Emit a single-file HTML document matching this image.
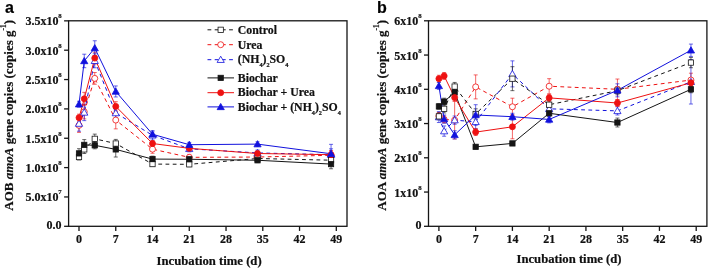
<!DOCTYPE html>
<html><head><meta charset="utf-8"><style>
html,body{margin:0;padding:0;background:#fff;}
svg{display:block;will-change:transform;}
text{font-family:"Liberation Serif",serif;font-weight:bold;fill:#111;stroke:#111;stroke-width:0.2px;}
.tl{font-size:12px;}
.sup{font-size:6.8px;}
.sup2{font-size:7.5px;}
.sub{font-size:6.2px;}
.lg{font-size:11.8px;}
.ti{font-size:12.7px;}
.yt{font-size:13px;}
.pl{font-family:"Liberation Sans",sans-serif;font-size:16px;fill:#000;}
</style></head><body>
<svg width="709" height="269" viewBox="0 0 709 269">
<rect width="709" height="269" fill="#fff"/>
<rect x="68.6" y="20.8" width="278.4" height="205.5" fill="none" stroke="#151515" stroke-width="1.3"/>
<line x1="79.00" y1="226.3" x2="79.00" y2="230.9" stroke="#151515" stroke-width="1.3"/>
<text x="79.00" y="242.6" class="tl" text-anchor="middle">0</text>
<line x1="115.76" y1="226.3" x2="115.76" y2="230.9" stroke="#151515" stroke-width="1.3"/>
<text x="115.76" y="242.6" class="tl" text-anchor="middle">7</text>
<line x1="152.51" y1="226.3" x2="152.51" y2="230.9" stroke="#151515" stroke-width="1.3"/>
<text x="152.51" y="242.6" class="tl" text-anchor="middle">14</text>
<line x1="189.27" y1="226.3" x2="189.27" y2="230.9" stroke="#151515" stroke-width="1.3"/>
<text x="189.27" y="242.6" class="tl" text-anchor="middle">21</text>
<line x1="226.03" y1="226.3" x2="226.03" y2="230.9" stroke="#151515" stroke-width="1.3"/>
<text x="226.03" y="242.6" class="tl" text-anchor="middle">28</text>
<line x1="262.79" y1="226.3" x2="262.79" y2="230.9" stroke="#151515" stroke-width="1.3"/>
<text x="262.79" y="242.6" class="tl" text-anchor="middle">35</text>
<line x1="299.54" y1="226.3" x2="299.54" y2="230.9" stroke="#151515" stroke-width="1.3"/>
<text x="299.54" y="242.6" class="tl" text-anchor="middle">42</text>
<line x1="336.30" y1="226.3" x2="336.30" y2="230.9" stroke="#151515" stroke-width="1.3"/>
<text x="336.30" y="242.6" class="tl" text-anchor="middle">49</text>
<line x1="64.1" y1="226.30" x2="68.6" y2="226.30" stroke="#151515" stroke-width="1.3"/>
<text x="61.60" y="229.00" class="tl" text-anchor="end">0.0</text>
<line x1="64.1" y1="196.95" x2="68.6" y2="196.95" stroke="#151515" stroke-width="1.3"/>
<text x="58.40" y="201.45" class="tl" text-anchor="end">5.0x10</text>
<text x="58.30" y="194.45" class="sup">7</text>
<line x1="64.1" y1="167.60" x2="68.6" y2="167.60" stroke="#151515" stroke-width="1.3"/>
<text x="58.40" y="172.10" class="tl" text-anchor="end">1.0x10</text>
<text x="58.30" y="165.10" class="sup">8</text>
<line x1="64.1" y1="138.25" x2="68.6" y2="138.25" stroke="#151515" stroke-width="1.3"/>
<text x="58.40" y="142.75" class="tl" text-anchor="end">1.5x10</text>
<text x="58.30" y="135.75" class="sup">8</text>
<line x1="64.1" y1="108.90" x2="68.6" y2="108.90" stroke="#151515" stroke-width="1.3"/>
<text x="58.40" y="113.40" class="tl" text-anchor="end">2.0x10</text>
<text x="58.30" y="106.40" class="sup">8</text>
<line x1="64.1" y1="79.55" x2="68.6" y2="79.55" stroke="#151515" stroke-width="1.3"/>
<text x="58.40" y="84.05" class="tl" text-anchor="end">2.5x10</text>
<text x="58.30" y="77.05" class="sup">8</text>
<line x1="64.1" y1="50.20" x2="68.6" y2="50.20" stroke="#151515" stroke-width="1.3"/>
<text x="58.40" y="54.70" class="tl" text-anchor="end">3.0x10</text>
<text x="58.30" y="47.70" class="sup">8</text>
<line x1="64.1" y1="20.85" x2="68.6" y2="20.85" stroke="#151515" stroke-width="1.3"/>
<text x="58.40" y="25.35" class="tl" text-anchor="end">3.5x10</text>
<text x="58.30" y="18.35" class="sup">8</text>
<rect x="428.5" y="20.8" width="278.4" height="205.5" fill="none" stroke="#151515" stroke-width="1.3"/>
<line x1="438.90" y1="226.3" x2="438.90" y2="230.9" stroke="#151515" stroke-width="1.3"/>
<text x="438.90" y="242.6" class="tl" text-anchor="middle">0</text>
<line x1="475.66" y1="226.3" x2="475.66" y2="230.9" stroke="#151515" stroke-width="1.3"/>
<text x="475.66" y="242.6" class="tl" text-anchor="middle">7</text>
<line x1="512.41" y1="226.3" x2="512.41" y2="230.9" stroke="#151515" stroke-width="1.3"/>
<text x="512.41" y="242.6" class="tl" text-anchor="middle">14</text>
<line x1="549.17" y1="226.3" x2="549.17" y2="230.9" stroke="#151515" stroke-width="1.3"/>
<text x="549.17" y="242.6" class="tl" text-anchor="middle">21</text>
<line x1="585.93" y1="226.3" x2="585.93" y2="230.9" stroke="#151515" stroke-width="1.3"/>
<text x="585.93" y="242.6" class="tl" text-anchor="middle">28</text>
<line x1="622.68" y1="226.3" x2="622.68" y2="230.9" stroke="#151515" stroke-width="1.3"/>
<text x="622.68" y="242.6" class="tl" text-anchor="middle">35</text>
<line x1="659.44" y1="226.3" x2="659.44" y2="230.9" stroke="#151515" stroke-width="1.3"/>
<text x="659.44" y="242.6" class="tl" text-anchor="middle">42</text>
<line x1="696.20" y1="226.3" x2="696.20" y2="230.9" stroke="#151515" stroke-width="1.3"/>
<text x="696.20" y="242.6" class="tl" text-anchor="middle">49</text>
<line x1="424.0" y1="226.30" x2="428.5" y2="226.30" stroke="#151515" stroke-width="1.3"/>
<text x="421.50" y="229.00" class="tl" text-anchor="end">0</text>
<line x1="424.0" y1="192.05" x2="428.5" y2="192.05" stroke="#151515" stroke-width="1.3"/>
<text x="418.30" y="196.55" class="tl" text-anchor="end">1x10</text>
<text x="418.20" y="189.55" class="sup">8</text>
<line x1="424.0" y1="157.80" x2="428.5" y2="157.80" stroke="#151515" stroke-width="1.3"/>
<text x="418.30" y="162.30" class="tl" text-anchor="end">2x10</text>
<text x="418.20" y="155.30" class="sup">8</text>
<line x1="424.0" y1="123.55" x2="428.5" y2="123.55" stroke="#151515" stroke-width="1.3"/>
<text x="418.30" y="128.05" class="tl" text-anchor="end">3x10</text>
<text x="418.20" y="121.05" class="sup">8</text>
<line x1="424.0" y1="89.30" x2="428.5" y2="89.30" stroke="#151515" stroke-width="1.3"/>
<text x="418.30" y="93.80" class="tl" text-anchor="end">4x10</text>
<text x="418.20" y="86.80" class="sup">8</text>
<line x1="424.0" y1="55.05" x2="428.5" y2="55.05" stroke="#151515" stroke-width="1.3"/>
<text x="418.30" y="59.55" class="tl" text-anchor="end">5x10</text>
<text x="418.20" y="52.55" class="sup">8</text>
<line x1="424.0" y1="20.80" x2="428.5" y2="20.80" stroke="#151515" stroke-width="1.3"/>
<text x="418.30" y="25.30" class="tl" text-anchor="end">6x10</text>
<text x="418.20" y="18.30" class="sup">8</text>
<path d="M79.00 118.29V132.38M77.00 118.29h4M77.00 132.38h4" stroke="#ee1111" stroke-width="0.8" fill="none" opacity="0.8"/>
<path d="M84.25 104.79V118.88M82.25 104.79h4M82.25 118.88h4" stroke="#ee1111" stroke-width="0.8" fill="none" opacity="0.8"/>
<path d="M94.75 72.51V84.25M92.75 72.51h4M92.75 84.25h4" stroke="#ee1111" stroke-width="0.8" fill="none" opacity="0.8"/>
<path d="M115.76 111.25V128.86M113.76 111.25h4M113.76 128.86h4" stroke="#ee1111" stroke-width="0.8" fill="none" opacity="0.8"/>
<path d="M152.51 145.06V153.28M150.51 145.06h4M150.51 153.28h4" stroke="#ee1111" stroke-width="0.8" fill="none" opacity="0.8"/>
<path d="M189.27 154.39V160.26M187.27 154.39h4M187.27 160.26h4" stroke="#ee1111" stroke-width="0.8" fill="none" opacity="0.8"/>
<path d="M257.53 154.10V159.97M255.53 154.10h4M255.53 159.97h4" stroke="#ee1111" stroke-width="0.8" fill="none" opacity="0.8"/>
<path d="M331.05 150.58V159.97M329.05 150.58h4M329.05 159.97h4" stroke="#ee1111" stroke-width="0.8" fill="none" opacity="0.8"/>
<path d="M79.00 115.94V131.21M77.00 115.94h4M77.00 131.21h4" stroke="#1111dd" stroke-width="0.8" fill="none" opacity="0.8"/>
<path d="M84.25 104.20V120.64M82.25 104.20h4M82.25 120.64h4" stroke="#1111dd" stroke-width="0.8" fill="none" opacity="0.8"/>
<path d="M94.75 53.72V67.81M92.75 53.72h4M92.75 67.81h4" stroke="#1111dd" stroke-width="0.8" fill="none" opacity="0.8"/>
<path d="M115.76 105.97V120.05M113.76 105.97h4M113.76 120.05h4" stroke="#1111dd" stroke-width="0.8" fill="none" opacity="0.8"/>
<path d="M152.51 130.62V140.01M150.51 130.62h4M150.51 140.01h4" stroke="#1111dd" stroke-width="0.8" fill="none" opacity="0.8"/>
<path d="M189.27 145.88V151.75M187.27 145.88h4M187.27 151.75h4" stroke="#1111dd" stroke-width="0.8" fill="none" opacity="0.8"/>
<path d="M257.53 149.99V155.86M255.53 149.99h4M255.53 155.86h4" stroke="#1111dd" stroke-width="0.8" fill="none" opacity="0.8"/>
<path d="M331.05 148.82V160.56M329.05 148.82h4M329.05 160.56h4" stroke="#1111dd" stroke-width="0.8" fill="none" opacity="0.8"/>
<path d="M79.00 154.10V159.97M77.00 154.10h4M77.00 159.97h4" stroke="#151515" stroke-width="0.8" fill="none" opacity="0.8"/>
<path d="M84.25 145.29V153.51M82.25 145.29h4M82.25 153.51h4" stroke="#151515" stroke-width="0.8" fill="none" opacity="0.8"/>
<path d="M94.75 134.14V143.53M92.75 134.14h4M92.75 143.53h4" stroke="#151515" stroke-width="0.8" fill="none" opacity="0.8"/>
<path d="M115.76 139.42V147.64M113.76 139.42h4M113.76 147.64h4" stroke="#151515" stroke-width="0.8" fill="none" opacity="0.8"/>
<path d="M152.51 161.73V166.43M150.51 161.73h4M150.51 166.43h4" stroke="#151515" stroke-width="0.8" fill="none" opacity="0.8"/>
<path d="M189.27 161.96V166.66M187.27 161.96h4M187.27 166.66h4" stroke="#151515" stroke-width="0.8" fill="none" opacity="0.8"/>
<path d="M257.53 156.15V160.85M255.53 156.15h4M255.53 160.85h4" stroke="#151515" stroke-width="0.8" fill="none" opacity="0.8"/>
<path d="M331.05 157.27V163.14M329.05 157.27h4M329.05 163.14h4" stroke="#151515" stroke-width="0.8" fill="none" opacity="0.8"/>
<path d="M79.00 148.70V158.09M77.00 148.70h4M77.00 158.09h4" stroke="#151515" stroke-width="0.8" fill="none" opacity="0.8"/>
<path d="M84.25 139.60V150.17M82.25 139.60h4M82.25 150.17h4" stroke="#151515" stroke-width="0.8" fill="none" opacity="0.8"/>
<path d="M94.75 141.77V148.82M92.75 141.77h4M92.75 148.82h4" stroke="#151515" stroke-width="0.8" fill="none" opacity="0.8"/>
<path d="M115.76 141.77V157.03M113.76 141.77h4M113.76 157.03h4" stroke="#151515" stroke-width="0.8" fill="none" opacity="0.8"/>
<path d="M152.51 156.15V162.02M150.51 156.15h4M150.51 162.02h4" stroke="#151515" stroke-width="0.8" fill="none" opacity="0.8"/>
<path d="M189.27 156.92V161.61M187.27 156.92h4M187.27 161.61h4" stroke="#151515" stroke-width="0.8" fill="none" opacity="0.8"/>
<path d="M257.53 157.91V162.61M255.53 157.91h4M255.53 162.61h4" stroke="#151515" stroke-width="0.8" fill="none" opacity="0.8"/>
<path d="M331.05 159.38V168.77M329.05 159.38h4M329.05 168.77h4" stroke="#151515" stroke-width="0.8" fill="none" opacity="0.8"/>
<path d="M79.00 114.18V121.23M77.00 114.18h4M77.00 121.23h4" stroke="#ee1111" stroke-width="0.8" fill="none" opacity="0.8"/>
<path d="M84.25 92.35V105.26M82.25 92.35h4M82.25 105.26h4" stroke="#ee1111" stroke-width="0.8" fill="none" opacity="0.8"/>
<path d="M94.75 52.25V63.99M92.75 52.25h4M92.75 63.99h4" stroke="#ee1111" stroke-width="0.8" fill="none" opacity="0.8"/>
<path d="M115.76 101.68V111.07M113.76 101.68h4M113.76 111.07h4" stroke="#ee1111" stroke-width="0.8" fill="none" opacity="0.8"/>
<path d="M152.51 140.60V146.47M150.51 140.60h4M150.51 146.47h4" stroke="#ee1111" stroke-width="0.8" fill="none" opacity="0.8"/>
<path d="M189.27 146.00V150.69M187.27 146.00h4M187.27 150.69h4" stroke="#ee1111" stroke-width="0.8" fill="none" opacity="0.8"/>
<path d="M257.53 151.16V155.86M255.53 151.16h4M255.53 155.86h4" stroke="#ee1111" stroke-width="0.8" fill="none" opacity="0.8"/>
<path d="M331.05 151.16V158.21M329.05 151.16h4M329.05 158.21h4" stroke="#ee1111" stroke-width="0.8" fill="none" opacity="0.8"/>
<path d="M79.00 101.27V107.14M77.00 101.27h4M77.00 107.14h4" stroke="#1111dd" stroke-width="0.8" fill="none" opacity="0.8"/>
<path d="M84.25 54.19V67.69M82.25 54.19h4M82.25 67.69h4" stroke="#1111dd" stroke-width="0.8" fill="none" opacity="0.8"/>
<path d="M94.75 40.75V55.42M92.75 40.75h4M92.75 55.42h4" stroke="#1111dd" stroke-width="0.8" fill="none" opacity="0.8"/>
<path d="M115.76 85.95V96.98M113.76 85.95h4M113.76 96.98h4" stroke="#1111dd" stroke-width="0.8" fill="none" opacity="0.8"/>
<path d="M152.51 131.91V136.61M150.51 131.91h4M150.51 136.61h4" stroke="#1111dd" stroke-width="0.8" fill="none" opacity="0.8"/>
<path d="M189.27 142.36V147.06M187.27 142.36h4M187.27 147.06h4" stroke="#1111dd" stroke-width="0.8" fill="none" opacity="0.8"/>
<path d="M257.53 141.77V146.47M255.53 141.77h4M255.53 146.47h4" stroke="#1111dd" stroke-width="0.8" fill="none" opacity="0.8"/>
<path d="M331.05 144.35V163.14M329.05 144.35h4M329.05 163.14h4" stroke="#1111dd" stroke-width="0.8" fill="none" opacity="0.8"/>
<polyline points="79.00,125.34 84.25,111.84 94.75,78.38 115.76,120.05 152.51,149.17 189.27,157.33 257.53,157.03 331.05,155.27" fill="none" stroke="#ee1111" stroke-width="1.0" stroke-dasharray="3.8,3.4"/>
<polyline points="79.00,123.58 84.25,112.42 94.75,60.77 115.76,113.01 152.51,135.31 189.27,148.82 257.53,152.93 331.05,154.69" fill="none" stroke="#1111dd" stroke-width="1.0" stroke-dasharray="3.8,3.4"/>
<polyline points="79.00,157.03 84.25,149.40 94.75,138.84 115.76,143.53 152.51,164.08 189.27,164.31 257.53,158.50 331.05,160.20" fill="none" stroke="#151515" stroke-width="1.0" stroke-dasharray="3.8,3.4"/>
<polyline points="79.00,153.39 84.25,144.88 94.75,145.29 115.76,149.40 152.51,159.09 189.27,159.26 257.53,160.26 331.05,164.08" fill="none" stroke="#151515" stroke-width="1.0"/>
<polyline points="79.00,117.70 84.25,98.80 94.75,58.12 115.76,106.38 152.51,143.53 189.27,148.35 257.53,153.51 331.05,154.69" fill="none" stroke="#ee1111" stroke-width="1.0"/>
<polyline points="79.00,104.20 84.25,60.94 94.75,48.09 115.76,91.47 152.51,134.26 189.27,144.71 257.53,144.12 331.05,153.75" fill="none" stroke="#1111dd" stroke-width="1.0"/>
<circle cx="79.00" cy="125.34" r="3.0" fill="#fff" stroke="#ee1111" stroke-width="0.8"/>
<circle cx="84.25" cy="111.84" r="3.0" fill="#fff" stroke="#ee1111" stroke-width="0.8"/>
<circle cx="94.75" cy="78.38" r="3.0" fill="#fff" stroke="#ee1111" stroke-width="0.8"/>
<circle cx="115.76" cy="120.05" r="3.0" fill="#fff" stroke="#ee1111" stroke-width="0.8"/>
<circle cx="152.51" cy="149.17" r="3.0" fill="#fff" stroke="#ee1111" stroke-width="0.8"/>
<circle cx="189.27" cy="157.33" r="3.0" fill="#fff" stroke="#ee1111" stroke-width="0.8"/>
<circle cx="257.53" cy="157.03" r="3.0" fill="#fff" stroke="#ee1111" stroke-width="0.8"/>
<circle cx="331.05" cy="155.27" r="3.0" fill="#fff" stroke="#ee1111" stroke-width="0.8"/>
<polygon points="79.00,120.08 82.60,126.32 75.40,126.32" fill="#fff" stroke="#1111dd" stroke-width="0.8" stroke-linejoin="miter"/>
<polygon points="84.25,108.93 87.85,115.17 80.65,115.17" fill="#fff" stroke="#1111dd" stroke-width="0.8" stroke-linejoin="miter"/>
<polygon points="94.75,57.27 98.35,63.51 91.15,63.51" fill="#fff" stroke="#1111dd" stroke-width="0.8" stroke-linejoin="miter"/>
<polygon points="115.76,109.52 119.36,115.75 112.16,115.75" fill="#fff" stroke="#1111dd" stroke-width="0.8" stroke-linejoin="miter"/>
<polygon points="152.51,131.82 156.11,138.06 148.91,138.06" fill="#fff" stroke="#1111dd" stroke-width="0.8" stroke-linejoin="miter"/>
<polygon points="189.27,145.32 192.87,151.56 185.67,151.56" fill="#fff" stroke="#1111dd" stroke-width="0.8" stroke-linejoin="miter"/>
<polygon points="257.53,149.43 261.13,155.67 253.93,155.67" fill="#fff" stroke="#1111dd" stroke-width="0.8" stroke-linejoin="miter"/>
<polygon points="331.05,151.19 334.65,157.43 327.45,157.43" fill="#fff" stroke="#1111dd" stroke-width="0.8" stroke-linejoin="miter"/>
<rect x="76.35" y="154.38" width="5.3" height="5.3" fill="#fff" stroke="#151515" stroke-width="0.8"/>
<rect x="81.60" y="146.75" width="5.3" height="5.3" fill="#fff" stroke="#151515" stroke-width="0.8"/>
<rect x="92.10" y="136.19" width="5.3" height="5.3" fill="#fff" stroke="#151515" stroke-width="0.8"/>
<rect x="113.11" y="140.88" width="5.3" height="5.3" fill="#fff" stroke="#151515" stroke-width="0.8"/>
<rect x="149.86" y="161.43" width="5.3" height="5.3" fill="#fff" stroke="#151515" stroke-width="0.8"/>
<rect x="186.62" y="161.66" width="5.3" height="5.3" fill="#fff" stroke="#151515" stroke-width="0.8"/>
<rect x="254.88" y="155.85" width="5.3" height="5.3" fill="#fff" stroke="#151515" stroke-width="0.8"/>
<rect x="328.40" y="157.55" width="5.3" height="5.3" fill="#fff" stroke="#151515" stroke-width="0.8"/>
<rect x="76.35" y="150.74" width="5.3" height="5.3" fill="#151515" stroke="#151515" stroke-width="0.8"/>
<rect x="81.60" y="142.23" width="5.3" height="5.3" fill="#151515" stroke="#151515" stroke-width="0.8"/>
<rect x="92.10" y="142.64" width="5.3" height="5.3" fill="#151515" stroke="#151515" stroke-width="0.8"/>
<rect x="113.11" y="146.75" width="5.3" height="5.3" fill="#151515" stroke="#151515" stroke-width="0.8"/>
<rect x="149.86" y="156.44" width="5.3" height="5.3" fill="#151515" stroke="#151515" stroke-width="0.8"/>
<rect x="186.62" y="156.61" width="5.3" height="5.3" fill="#151515" stroke="#151515" stroke-width="0.8"/>
<rect x="254.88" y="157.61" width="5.3" height="5.3" fill="#151515" stroke="#151515" stroke-width="0.8"/>
<rect x="328.40" y="161.43" width="5.3" height="5.3" fill="#151515" stroke="#151515" stroke-width="0.8"/>
<circle cx="79.00" cy="117.70" r="3.0" fill="#ee1111" stroke="#ee1111" stroke-width="0.8"/>
<circle cx="84.25" cy="98.80" r="3.0" fill="#ee1111" stroke="#ee1111" stroke-width="0.8"/>
<circle cx="94.75" cy="58.12" r="3.0" fill="#ee1111" stroke="#ee1111" stroke-width="0.8"/>
<circle cx="115.76" cy="106.38" r="3.0" fill="#ee1111" stroke="#ee1111" stroke-width="0.8"/>
<circle cx="152.51" cy="143.53" r="3.0" fill="#ee1111" stroke="#ee1111" stroke-width="0.8"/>
<circle cx="189.27" cy="148.35" r="3.0" fill="#ee1111" stroke="#ee1111" stroke-width="0.8"/>
<circle cx="257.53" cy="153.51" r="3.0" fill="#ee1111" stroke="#ee1111" stroke-width="0.8"/>
<circle cx="331.05" cy="154.69" r="3.0" fill="#ee1111" stroke="#ee1111" stroke-width="0.8"/>
<polygon points="79.00,100.71 82.60,106.95 75.40,106.95" fill="#1111dd" stroke="#1111dd" stroke-width="0.8" stroke-linejoin="miter"/>
<polygon points="84.25,57.45 87.85,63.69 80.65,63.69" fill="#1111dd" stroke="#1111dd" stroke-width="0.8" stroke-linejoin="miter"/>
<polygon points="94.75,44.60 98.35,50.83 91.15,50.83" fill="#1111dd" stroke="#1111dd" stroke-width="0.8" stroke-linejoin="miter"/>
<polygon points="115.76,87.97 119.36,94.21 112.16,94.21" fill="#1111dd" stroke="#1111dd" stroke-width="0.8" stroke-linejoin="miter"/>
<polygon points="152.51,130.77 156.11,137.00 148.91,137.00" fill="#1111dd" stroke="#1111dd" stroke-width="0.8" stroke-linejoin="miter"/>
<polygon points="189.27,141.22 192.87,147.45 185.67,147.45" fill="#1111dd" stroke="#1111dd" stroke-width="0.8" stroke-linejoin="miter"/>
<polygon points="257.53,140.63 261.13,146.86 253.93,146.86" fill="#1111dd" stroke="#1111dd" stroke-width="0.8" stroke-linejoin="miter"/>
<polygon points="331.05,150.26 334.65,156.49 327.45,156.49" fill="#1111dd" stroke="#1111dd" stroke-width="0.8" stroke-linejoin="miter"/>
<path d="M438.90 112.59V119.44M436.90 112.59h4M436.90 119.44h4" stroke="#ee1111" stroke-width="0.8" fill="none" opacity="0.8"/>
<path d="M444.15 116.02V122.87M442.15 116.02h4M442.15 122.87h4" stroke="#ee1111" stroke-width="0.8" fill="none" opacity="0.8"/>
<path d="M454.65 101.29V138.96M452.65 101.29h4M452.65 138.96h4" stroke="#ee1111" stroke-width="0.8" fill="none" opacity="0.8"/>
<path d="M475.66 74.92V98.89M473.66 74.92h4M473.66 98.89h4" stroke="#ee1111" stroke-width="0.8" fill="none" opacity="0.8"/>
<path d="M512.41 98.21V115.33M510.41 98.21h4M510.41 115.33h4" stroke="#ee1111" stroke-width="0.8" fill="none" opacity="0.8"/>
<path d="M549.17 78.68V93.75M547.17 78.68h4M547.17 93.75h4" stroke="#ee1111" stroke-width="0.8" fill="none" opacity="0.8"/>
<path d="M617.43 79.03V99.58M615.43 79.03h4M615.43 99.58h4" stroke="#ee1111" stroke-width="0.8" fill="none" opacity="0.8"/>
<path d="M690.95 73.20V86.90M688.95 73.20h4M688.95 86.90h4" stroke="#ee1111" stroke-width="0.8" fill="none" opacity="0.8"/>
<path d="M438.90 111.56V122.52M436.90 111.56h4M436.90 122.52h4" stroke="#1111dd" stroke-width="0.8" fill="none" opacity="0.8"/>
<path d="M444.15 125.95V136.22M442.15 125.95h4M442.15 136.22h4" stroke="#1111dd" stroke-width="0.8" fill="none" opacity="0.8"/>
<path d="M454.65 116.02V124.24M452.65 116.02h4M452.65 124.24h4" stroke="#1111dd" stroke-width="0.8" fill="none" opacity="0.8"/>
<path d="M475.66 114.99V128.69M473.66 114.99h4M473.66 128.69h4" stroke="#1111dd" stroke-width="0.8" fill="none" opacity="0.8"/>
<path d="M512.41 60.87V86.90M510.41 60.87h4M510.41 86.90h4" stroke="#1111dd" stroke-width="0.8" fill="none" opacity="0.8"/>
<path d="M549.17 103.69V113.96M547.17 103.69h4M547.17 113.96h4" stroke="#1111dd" stroke-width="0.8" fill="none" opacity="0.8"/>
<path d="M617.43 106.77V114.99M615.43 106.77h4M615.43 114.99h4" stroke="#1111dd" stroke-width="0.8" fill="none" opacity="0.8"/>
<path d="M690.95 59.50V104.03M688.95 59.50h4M688.95 104.03h4" stroke="#1111dd" stroke-width="0.8" fill="none" opacity="0.8"/>
<path d="M438.90 112.93V119.78M436.90 112.93h4M436.90 119.78h4" stroke="#151515" stroke-width="0.8" fill="none" opacity="0.8"/>
<path d="M444.15 104.71V112.93M442.15 104.71h4M442.15 112.93h4" stroke="#151515" stroke-width="0.8" fill="none" opacity="0.8"/>
<path d="M454.65 82.45V90.67M452.65 82.45h4M452.65 90.67h4" stroke="#151515" stroke-width="0.8" fill="none" opacity="0.8"/>
<path d="M475.66 108.82V119.10M473.66 108.82h4M473.66 119.10h4" stroke="#151515" stroke-width="0.8" fill="none" opacity="0.8"/>
<path d="M512.41 66.70V90.67M510.41 66.70h4M510.41 90.67h4" stroke="#151515" stroke-width="0.8" fill="none" opacity="0.8"/>
<path d="M549.17 100.60V108.82M547.17 100.60h4M547.17 108.82h4" stroke="#151515" stroke-width="0.8" fill="none" opacity="0.8"/>
<path d="M617.43 86.56V94.78M615.43 86.56h4M615.43 94.78h4" stroke="#151515" stroke-width="0.8" fill="none" opacity="0.8"/>
<path d="M690.95 57.45V67.72M688.95 57.45h4M688.95 67.72h4" stroke="#151515" stroke-width="0.8" fill="none" opacity="0.8"/>
<path d="M438.90 103.69V109.17M436.90 103.69h4M436.90 109.17h4" stroke="#151515" stroke-width="0.8" fill="none" opacity="0.8"/>
<path d="M444.15 98.21V105.06M442.15 98.21h4M442.15 105.06h4" stroke="#151515" stroke-width="0.8" fill="none" opacity="0.8"/>
<path d="M454.65 90.33V94.44M452.65 90.33h4M452.65 94.44h4" stroke="#151515" stroke-width="0.8" fill="none" opacity="0.8"/>
<path d="M475.66 145.13V148.55M473.66 145.13h4M473.66 148.55h4" stroke="#151515" stroke-width="0.8" fill="none" opacity="0.8"/>
<path d="M512.41 141.70V145.13M510.41 141.70h4M510.41 145.13h4" stroke="#151515" stroke-width="0.8" fill="none" opacity="0.8"/>
<path d="M549.17 109.85V116.70M547.17 109.85h4M547.17 116.70h4" stroke="#151515" stroke-width="0.8" fill="none" opacity="0.8"/>
<path d="M617.43 118.07V126.98M615.43 118.07h4M615.43 126.98h4" stroke="#151515" stroke-width="0.8" fill="none" opacity="0.8"/>
<path d="M690.95 85.88V92.73M688.95 85.88h4M688.95 92.73h4" stroke="#151515" stroke-width="0.8" fill="none" opacity="0.8"/>
<path d="M438.90 75.26V82.11M436.90 75.26h4M436.90 82.11h4" stroke="#ee1111" stroke-width="0.8" fill="none" opacity="0.8"/>
<path d="M444.15 72.52V79.37M442.15 72.52h4M442.15 79.37h4" stroke="#ee1111" stroke-width="0.8" fill="none" opacity="0.8"/>
<path d="M454.65 94.10V100.95M452.65 94.10h4M452.65 100.95h4" stroke="#ee1111" stroke-width="0.8" fill="none" opacity="0.8"/>
<path d="M475.66 128.69V135.54M473.66 128.69h4M473.66 135.54h4" stroke="#ee1111" stroke-width="0.8" fill="none" opacity="0.8"/>
<path d="M512.41 114.82V138.79M510.41 114.82h4M510.41 138.79h4" stroke="#ee1111" stroke-width="0.8" fill="none" opacity="0.8"/>
<path d="M549.17 94.44V101.29M547.17 94.44h4M547.17 101.29h4" stroke="#ee1111" stroke-width="0.8" fill="none" opacity="0.8"/>
<path d="M617.43 99.58V106.43M615.43 99.58h4M615.43 106.43h4" stroke="#ee1111" stroke-width="0.8" fill="none" opacity="0.8"/>
<path d="M690.95 79.37V86.22M688.95 79.37h4M688.95 86.22h4" stroke="#ee1111" stroke-width="0.8" fill="none" opacity="0.8"/>
<path d="M438.90 82.45V89.30M436.90 82.45h4M436.90 89.30h4" stroke="#1111dd" stroke-width="0.8" fill="none" opacity="0.8"/>
<path d="M444.15 114.99V123.21M442.15 114.99h4M442.15 123.21h4" stroke="#1111dd" stroke-width="0.8" fill="none" opacity="0.8"/>
<path d="M454.65 130.74V138.96M452.65 130.74h4M452.65 138.96h4" stroke="#1111dd" stroke-width="0.8" fill="none" opacity="0.8"/>
<path d="M475.66 104.71V125.26M473.66 104.71h4M473.66 125.26h4" stroke="#1111dd" stroke-width="0.8" fill="none" opacity="0.8"/>
<path d="M512.41 113.28V120.13M510.41 113.28h4M510.41 120.13h4" stroke="#1111dd" stroke-width="0.8" fill="none" opacity="0.8"/>
<path d="M549.17 116.02V122.87M547.17 116.02h4M547.17 122.87h4" stroke="#1111dd" stroke-width="0.8" fill="none" opacity="0.8"/>
<path d="M617.43 83.82V96.84M615.43 83.82h4M615.43 96.84h4" stroke="#1111dd" stroke-width="0.8" fill="none" opacity="0.8"/>
<path d="M690.95 44.09V56.42M688.95 44.09h4M688.95 56.42h4" stroke="#1111dd" stroke-width="0.8" fill="none" opacity="0.8"/>
<polyline points="438.90,116.02 444.15,119.44 454.65,120.13 475.66,86.90 512.41,106.77 549.17,86.22 617.43,89.30 690.95,80.05" fill="none" stroke="#ee1111" stroke-width="1.0" stroke-dasharray="3.8,3.4"/>
<polyline points="438.90,117.04 444.15,131.09 454.65,120.13 475.66,121.84 512.41,73.89 549.17,108.82 617.43,110.88 690.95,81.77" fill="none" stroke="#1111dd" stroke-width="1.0" stroke-dasharray="3.8,3.4"/>
<polyline points="438.90,116.36 444.15,108.82 454.65,86.56 475.66,113.96 512.41,78.68 549.17,104.71 617.43,90.67 690.95,62.59" fill="none" stroke="#151515" stroke-width="1.0" stroke-dasharray="3.8,3.4"/>
<polyline points="438.90,106.43 444.15,101.63 454.65,92.38 475.66,146.84 512.41,143.42 549.17,113.28 617.43,122.52 690.95,89.30" fill="none" stroke="#151515" stroke-width="1.0"/>
<polyline points="438.90,78.68 444.15,75.94 454.65,97.52 475.66,132.11 512.41,126.80 549.17,97.86 617.43,103.00 690.95,82.79" fill="none" stroke="#ee1111" stroke-width="1.0"/>
<polyline points="438.90,85.88 444.15,119.10 454.65,134.85 475.66,114.99 512.41,116.70 549.17,119.44 617.43,90.33 690.95,50.26" fill="none" stroke="#1111dd" stroke-width="1.0"/>
<circle cx="438.90" cy="116.02" r="3.0" fill="#fff" stroke="#ee1111" stroke-width="0.8"/>
<circle cx="444.15" cy="119.44" r="3.0" fill="#fff" stroke="#ee1111" stroke-width="0.8"/>
<circle cx="454.65" cy="120.13" r="3.0" fill="#fff" stroke="#ee1111" stroke-width="0.8"/>
<circle cx="475.66" cy="86.90" r="3.0" fill="#fff" stroke="#ee1111" stroke-width="0.8"/>
<circle cx="512.41" cy="106.77" r="3.0" fill="#fff" stroke="#ee1111" stroke-width="0.8"/>
<circle cx="549.17" cy="86.22" r="3.0" fill="#fff" stroke="#ee1111" stroke-width="0.8"/>
<circle cx="617.43" cy="89.30" r="3.0" fill="#fff" stroke="#ee1111" stroke-width="0.8"/>
<circle cx="690.95" cy="80.05" r="3.0" fill="#fff" stroke="#ee1111" stroke-width="0.8"/>
<polygon points="438.90,113.55 442.50,119.79 435.30,119.79" fill="#fff" stroke="#1111dd" stroke-width="0.8" stroke-linejoin="miter"/>
<polygon points="444.15,127.59 447.75,133.83 440.55,133.83" fill="#fff" stroke="#1111dd" stroke-width="0.8" stroke-linejoin="miter"/>
<polygon points="454.65,116.63 458.25,122.87 451.05,122.87" fill="#fff" stroke="#1111dd" stroke-width="0.8" stroke-linejoin="miter"/>
<polygon points="475.66,118.35 479.26,124.58 472.06,124.58" fill="#fff" stroke="#1111dd" stroke-width="0.8" stroke-linejoin="miter"/>
<polygon points="512.41,70.40 516.01,76.63 508.81,76.63" fill="#fff" stroke="#1111dd" stroke-width="0.8" stroke-linejoin="miter"/>
<polygon points="549.17,105.33 552.77,111.57 545.57,111.57" fill="#fff" stroke="#1111dd" stroke-width="0.8" stroke-linejoin="miter"/>
<polygon points="617.43,107.39 621.03,113.62 613.83,113.62" fill="#fff" stroke="#1111dd" stroke-width="0.8" stroke-linejoin="miter"/>
<polygon points="690.95,78.27 694.55,84.51 687.35,84.51" fill="#fff" stroke="#1111dd" stroke-width="0.8" stroke-linejoin="miter"/>
<rect x="436.25" y="113.71" width="5.3" height="5.3" fill="#fff" stroke="#151515" stroke-width="0.8"/>
<rect x="441.50" y="106.17" width="5.3" height="5.3" fill="#fff" stroke="#151515" stroke-width="0.8"/>
<rect x="452.00" y="83.91" width="5.3" height="5.3" fill="#fff" stroke="#151515" stroke-width="0.8"/>
<rect x="473.01" y="111.31" width="5.3" height="5.3" fill="#fff" stroke="#151515" stroke-width="0.8"/>
<rect x="509.76" y="76.03" width="5.3" height="5.3" fill="#fff" stroke="#151515" stroke-width="0.8"/>
<rect x="546.52" y="102.06" width="5.3" height="5.3" fill="#fff" stroke="#151515" stroke-width="0.8"/>
<rect x="614.78" y="88.02" width="5.3" height="5.3" fill="#fff" stroke="#151515" stroke-width="0.8"/>
<rect x="688.30" y="59.94" width="5.3" height="5.3" fill="#fff" stroke="#151515" stroke-width="0.8"/>
<rect x="436.25" y="103.78" width="5.3" height="5.3" fill="#151515" stroke="#151515" stroke-width="0.8"/>
<rect x="441.50" y="98.98" width="5.3" height="5.3" fill="#151515" stroke="#151515" stroke-width="0.8"/>
<rect x="452.00" y="89.73" width="5.3" height="5.3" fill="#151515" stroke="#151515" stroke-width="0.8"/>
<rect x="473.01" y="144.19" width="5.3" height="5.3" fill="#151515" stroke="#151515" stroke-width="0.8"/>
<rect x="509.76" y="140.77" width="5.3" height="5.3" fill="#151515" stroke="#151515" stroke-width="0.8"/>
<rect x="546.52" y="110.63" width="5.3" height="5.3" fill="#151515" stroke="#151515" stroke-width="0.8"/>
<rect x="614.78" y="119.87" width="5.3" height="5.3" fill="#151515" stroke="#151515" stroke-width="0.8"/>
<rect x="688.30" y="86.65" width="5.3" height="5.3" fill="#151515" stroke="#151515" stroke-width="0.8"/>
<circle cx="438.90" cy="78.68" r="3.0" fill="#ee1111" stroke="#ee1111" stroke-width="0.8"/>
<circle cx="444.15" cy="75.94" r="3.0" fill="#ee1111" stroke="#ee1111" stroke-width="0.8"/>
<circle cx="454.65" cy="97.52" r="3.0" fill="#ee1111" stroke="#ee1111" stroke-width="0.8"/>
<circle cx="475.66" cy="132.11" r="3.0" fill="#ee1111" stroke="#ee1111" stroke-width="0.8"/>
<circle cx="512.41" cy="126.80" r="3.0" fill="#ee1111" stroke="#ee1111" stroke-width="0.8"/>
<circle cx="549.17" cy="97.86" r="3.0" fill="#ee1111" stroke="#ee1111" stroke-width="0.8"/>
<circle cx="617.43" cy="103.00" r="3.0" fill="#ee1111" stroke="#ee1111" stroke-width="0.8"/>
<circle cx="690.95" cy="82.79" r="3.0" fill="#ee1111" stroke="#ee1111" stroke-width="0.8"/>
<polygon points="438.90,82.38 442.50,88.62 435.30,88.62" fill="#1111dd" stroke="#1111dd" stroke-width="0.8" stroke-linejoin="miter"/>
<polygon points="444.15,115.61 447.75,121.84 440.55,121.84" fill="#1111dd" stroke="#1111dd" stroke-width="0.8" stroke-linejoin="miter"/>
<polygon points="454.65,131.36 458.25,137.60 451.05,137.60" fill="#1111dd" stroke="#1111dd" stroke-width="0.8" stroke-linejoin="miter"/>
<polygon points="475.66,111.50 479.26,117.73 472.06,117.73" fill="#1111dd" stroke="#1111dd" stroke-width="0.8" stroke-linejoin="miter"/>
<polygon points="512.41,113.21 516.01,119.44 508.81,119.44" fill="#1111dd" stroke="#1111dd" stroke-width="0.8" stroke-linejoin="miter"/>
<polygon points="549.17,115.95 552.77,122.18 545.57,122.18" fill="#1111dd" stroke="#1111dd" stroke-width="0.8" stroke-linejoin="miter"/>
<polygon points="617.43,86.84 621.03,93.07 613.83,93.07" fill="#1111dd" stroke="#1111dd" stroke-width="0.8" stroke-linejoin="miter"/>
<polygon points="690.95,46.76 694.55,53.00 687.35,53.00" fill="#1111dd" stroke="#1111dd" stroke-width="0.8" stroke-linejoin="miter"/>
<line x1="207.5" y1="29.8" x2="234" y2="29.8" stroke="#151515" stroke-width="1.0" stroke-dasharray="3.8,3.4"/>
<rect x="218.05" y="27.15" width="5.3" height="5.3" fill="#fff" stroke="#151515" stroke-width="0.8"/>
<text x="237.8" y="34.10" class="lg">Control</text>
<line x1="207.5" y1="44.7" x2="234" y2="44.7" stroke="#ee1111" stroke-width="1.0" stroke-dasharray="3.8,3.4"/>
<circle cx="220.70" cy="44.70" r="3.0" fill="#fff" stroke="#ee1111" stroke-width="0.8"/>
<text x="237.8" y="49.00" class="lg">Urea</text>
<line x1="207.5" y1="59.7" x2="234" y2="59.7" stroke="#1111dd" stroke-width="1.0" stroke-dasharray="3.8,3.4"/>
<polygon points="220.70,56.21 224.30,62.44 217.10,62.44" fill="#fff" stroke="#1111dd" stroke-width="0.8" stroke-linejoin="miter"/>
<text x="237.8" y="63.20" class="lg">(NH<tspan class="sub" dy="4">4</tspan><tspan dy="-4">)</tspan><tspan class="sub" dy="4">2</tspan><tspan dy="-4">SO</tspan><tspan class="sub" dy="4">4</tspan></text>
<line x1="207.5" y1="77.9" x2="234" y2="77.9" stroke="#151515" stroke-width="1.0"/>
<rect x="218.05" y="75.25" width="5.3" height="5.3" fill="#151515" stroke="#151515" stroke-width="0.8"/>
<text x="237.8" y="81.60" class="lg">Biochar</text>
<line x1="207.5" y1="92.7" x2="234" y2="92.7" stroke="#ee1111" stroke-width="1.0"/>
<circle cx="220.70" cy="92.70" r="3.0" fill="#ee1111" stroke="#ee1111" stroke-width="0.8"/>
<text x="237.8" y="96.40" class="lg">Biochar + Urea</text>
<line x1="207.5" y1="106.9" x2="234" y2="106.9" stroke="#1111dd" stroke-width="1.0"/>
<polygon points="220.70,103.41 224.30,109.64 217.10,109.64" fill="#1111dd" stroke="#1111dd" stroke-width="0.8" stroke-linejoin="miter"/>
<text x="237.8" y="110.60" class="lg">Biochar + (NH<tspan class="sub" dy="4">4</tspan><tspan dy="-4">)</tspan><tspan class="sub" dy="4">2</tspan><tspan dy="-4">SO</tspan><tspan class="sub" dy="4">4</tspan></text>
<text transform="translate(209.1,265.0) scale(1,1.05)" class="ti" text-anchor="middle">Incubation time (d)</text>
<text transform="translate(569.0,262.9) scale(1,1.05)" class="ti" text-anchor="middle">Incubation time (d)</text>
<text transform="translate(13.4,115.3) rotate(-90)" class="yt" text-anchor="middle">AOB <tspan font-style="italic">amoA</tspan> gene copies (copies g<tspan class="sup2" dy="-7.2">-1</tspan><tspan dy="7.2">)</tspan></text>
<text transform="translate(385.8,115.3) rotate(-90)" class="yt" text-anchor="middle">AOA <tspan font-style="italic">amoA</tspan> gene copies (copies g<tspan class="sup2" dy="-7.2">-1</tspan><tspan dy="7.2">)</tspan></text>
<text x="5" y="12.6" class="pl">a</text>
<text x="377" y="12.6" class="pl">b</text>
</svg>
</body></html>
